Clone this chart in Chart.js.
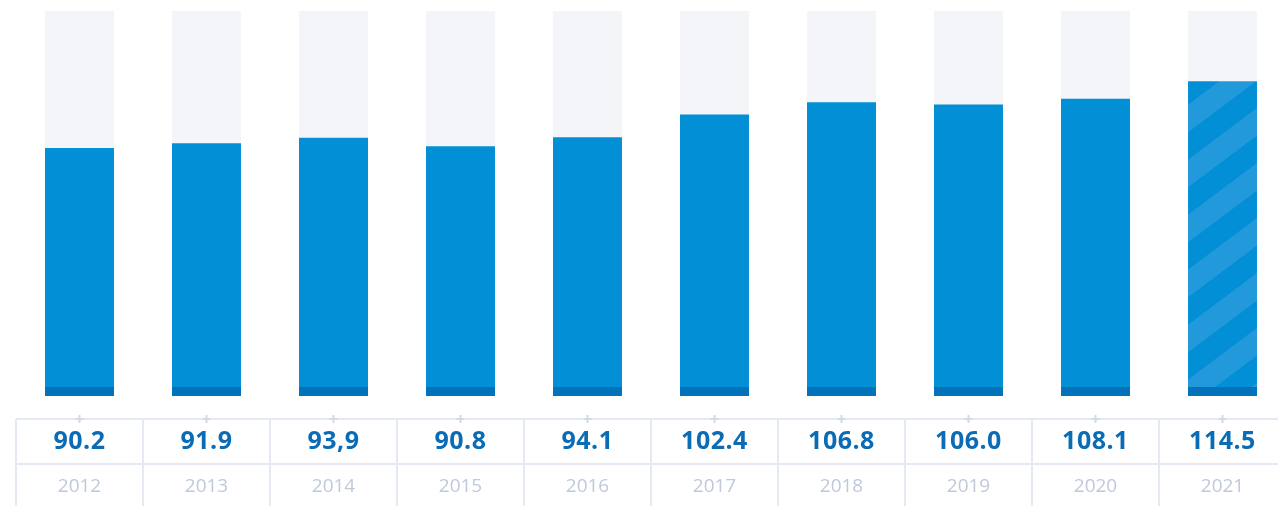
<!DOCTYPE html>
<html>
<head>
<meta charset="utf-8">
<script src="https://cdn.jsdelivr.net/npm/chart.js@4.4.0/dist/chart.umd.min.js"></script>
<style>
  html, body { margin: 0; padding: 0; background: #fff; overflow: hidden; }
  #wrap { width: 1290px; height: 506px; }
</style>
</head>
<body>
<div id="wrap"><canvas id="canvas" width="1290" height="506"></canvas></div>
<script>
// data
const years = ['2012', '2013', '2014', '2015', '2016', '2017', '2018', '2019', '2020', '2021'];
const values = [90.2, 91.9, 93.9, 90.8, 94.1, 102.4, 106.8, 106.0, 108.1, 114.5];
const valueLabels = ['90.2', '91.9', '93,9', '90.8', '94.1', '102.4', '106.8', '106.0', '108.1', '114.5'];
const forecast = [false, false, false, false, false, false, false, false, false, true];

const blue = '#028fd6';
const darkBlue = '#0272ba';
const track = '#f4f5f9';
const lineCol = '#e5e9f1';

// striped fill for the estimated year, rising to the right
function makeStripes(w, h){
  const P = 55, slope = 0.75;
  const c = document.createElement('canvas');
  c.width = w; c.height = h;
  const g = c.getContext('2d');
  const img = g.createImageData(w, h);
  for (let y = 0; y < h; y++) {
    for (let x = 0; x < w; x++) {
      let k = (y + slope * x - 5) % P;
      if (k < 0) k += P;
      const light = k < P * 0.5;
      const p = (y * w + x) * 4;
      img.data[p] = light ? 33 : 2;
      img.data[p + 1] = light ? 153 : 143;
      img.data[p + 2] = light ? 218 : 214;
      img.data[p + 3] = 255;
    }
  }
  g.putImageData(img, 0, 0);
  return g.createPattern(c, 'no-repeat');
}
const stripes = makeStripes(1290, 506);

const barDeco = {
  id: 'barDeco',
  beforeDatasetsDraw(chart){
    const ctx = chart.ctx;
    const area = chart.chartArea;
    chart.getDatasetMeta(0).data.forEach(function(bar){
      ctx.fillStyle = track;
      ctx.fillRect(bar.x - bar.width / 2, area.top, bar.width, bar.base - area.top);
    });
  },
  afterDatasetsDraw(chart){
    const ctx = chart.ctx;
    chart.getDatasetMeta(0).data.forEach(function(bar){
      ctx.fillStyle = darkBlue;
      ctx.fillRect(bar.x - bar.width / 2, bar.base - 9, bar.width, 9);
    });
  },
  afterDraw(chart){
    const ctx = chart.ctx;
    const xs = chart.scales.x;
    const top = 419, mid = 464, bottom = 506;
    const half = (xs.getPixelForValue(1) - xs.getPixelForValue(0)) / 2;
    ctx.save();
    ctx.strokeStyle = lineCol;
    ctx.lineWidth = 2;
    ctx.beginPath();
    ctx.moveTo(xs.left, top); ctx.lineTo(xs.right, top);
    ctx.moveTo(xs.left, mid); ctx.lineTo(xs.right, mid);
    for (let i = 0; i <= years.length; i++) {
      const bx = xs.getPixelForValue(0) - half + i * half * 2;
      ctx.moveTo(bx, top); ctx.lineTo(bx, bottom);
    }
    ctx.stroke();

    ctx.textAlign = 'center';
    ctx.textBaseline = 'middle';
    years.forEach(function(y, i){
      const cx = xs.getPixelForValue(i);
      // little plus on the top border
      ctx.strokeStyle = '#d3dae6';
      ctx.lineWidth = 2;
      ctx.beginPath();
      ctx.moveTo(cx - 4, top); ctx.lineTo(cx + 4, top);
      ctx.moveTo(cx, top - 4); ctx.lineTo(cx, top + 4);
      ctx.stroke();

      ctx.fillStyle = '#0b6cb6';
      ctx.font = 'bold 25px "Open Sans"';
      ctx.letterSpacing = '0.5px';
      ctx.fillText(valueLabels[i], cx, 442);
      ctx.letterSpacing = '0px';
      ctx.fillStyle = '#bfc9da';
      ctx.font = '19px "Open Sans"';
      ctx.fillText(y, cx, 487);
    });
    ctx.restore();
  }
};

new Chart(document.getElementById('canvas'), {
  type: 'bar',
  data: {
    labels: years,
    datasets: [{
      data: values,
      backgroundColor: forecast.map(function(f){ return f ? stripes : blue; }),
      borderWidth: 0,
      barPercentage: 0.543,
      categoryPercentage: 1
    }]
  },
  options: {
    responsive: false,
    animation: false,
    devicePixelRatio: 1,
    layout: { padding: { left: 16, right: 4, top: 11, bottom: 110 } },
    plugins: { legend: { display: false }, tooltip: { enabled: false } },
    scales: {
      x: { display: false },
      y: { display: false, min: 0, max: 140 }
    }
  },
  plugins: [barDeco]
});
</script>
</body>
</html>
